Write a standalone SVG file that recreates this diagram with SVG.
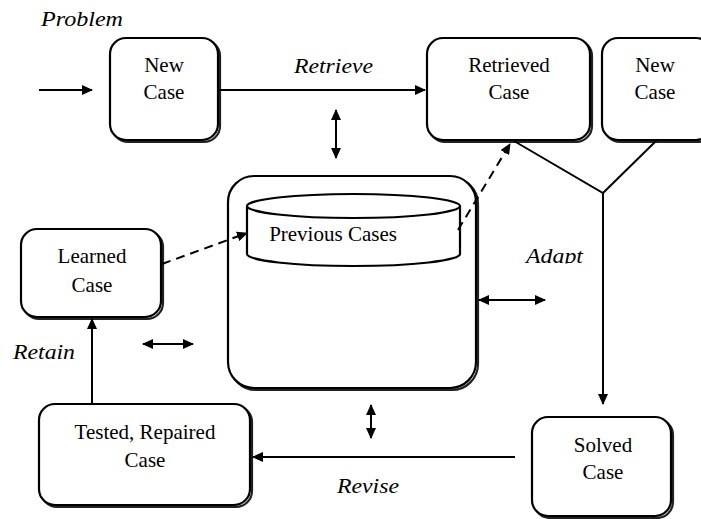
<svg xmlns="http://www.w3.org/2000/svg" width="701" height="519" viewBox="0 0 701 519">
<style>
.box{fill:#fff;stroke:#000;stroke-width:2.2}
.sh{fill:none;stroke:#222;stroke-width:2.2}
.t{font-family:'Liberation Serif','Times New Roman',serif;font-size:21px;fill:#000;text-anchor:middle}
.it{font-family:'Liberation Serif','Times New Roman',serif;font-size:21px;font-style:italic;fill:#000}
.ln{fill:none;stroke:#000;stroke-width:2}
.dash{fill:none;stroke:#000;stroke-width:2;stroke-dasharray:9,6}
</style>
<defs>
<marker id="arr" markerUnits="userSpaceOnUse" markerWidth="11" markerHeight="10" refX="10" refY="5" orient="auto-start-reverse" viewBox="0 0 11 10">
<path d="M0,0 L11,5 L0,10 z" fill="#000"/>
</marker>
<clipPath id="adclip"><rect x="500" y="230" width="120" height="33.5"/></clipPath>
</defs>
<rect width="701" height="519" fill="#fff"/>

<g id="new-case">
<rect class="sh" x="112" y="40" width="108" height="102" rx="16"/>
<rect class="box" x="110" y="38" width="108" height="102" rx="16"/>
<text class="t" x="164" y="72">New</text>
<text class="t" x="164" y="99">Case</text>
</g>

<g id="retrieved-case">
<rect class="sh" x="429" y="40" width="163" height="102" rx="16"/>
<rect class="box" x="427" y="38" width="163" height="102" rx="16"/>
<text class="t" x="509" y="72">Retrieved</text>
<text class="t" x="509" y="99">Case</text>
</g>

<g id="new-case-2">
<rect class="sh" x="604" y="40" width="110" height="102" rx="16"/>
<rect class="box" x="602" y="38" width="110" height="102" rx="16"/>
<text class="t" x="655" y="72">New</text>
<text class="t" x="655" y="99">Case</text>
</g>

<g id="case-base">
<rect class="sh" x="230" y="178" width="248" height="212" rx="26" stroke-width="3"/>
<rect class="box" x="228" y="176" width="248" height="212" rx="26" stroke-width="2.6"/>
</g>

<g id="previous-cases">
<path class="box" d="M247,206 L247,254 A106.5,12 0 0 0 460,254 L460,206"/>
<ellipse class="box" cx="353.5" cy="206" rx="106.5" ry="12"/>
<text class="t" x="333" y="241">Previous Cases</text>
</g>

<g id="learned-case">
<rect class="sh" x="23" y="231" width="140" height="88" rx="16"/>
<rect class="box" x="21" y="229" width="140" height="88" rx="16"/>
<text class="t" x="92" y="263">Learned</text>
<text class="t" x="92" y="292">Case</text>
</g>

<g id="tested-case">
<rect class="sh" x="41" y="406" width="211" height="101" rx="16"/>
<rect class="box" x="39" y="404" width="211" height="101" rx="16"/>
<text class="t" x="145" y="439">Tested, Repaired</text>
<text class="t" x="145" y="467">Case</text>
</g>

<g id="solved-case">
<rect class="sh" x="534" y="419" width="139" height="99" rx="16"/>
<rect class="box" x="532" y="417" width="139" height="99" rx="16"/>
<text class="t" x="603" y="452">Solved</text>
<text class="t" x="603" y="479">Case</text>
</g>

<g id="connectors">
<line class="ln" x1="39" y1="90" x2="92" y2="90" marker-end="url(#arr)"/>
<line class="ln" x1="219" y1="90" x2="425" y2="90" marker-end="url(#arr)"/>
<line class="ln" x1="336" y1="110" x2="336" y2="158" marker-start="url(#arr)" marker-end="url(#arr)"/>
<polyline class="ln" points="514,141 603,193 656,141"/>
<line class="ln" x1="603" y1="193" x2="603" y2="404" marker-end="url(#arr)"/>
<line class="dash" x1="458" y1="230" x2="510" y2="144" marker-end="url(#arr)"/>
<line class="dash" x1="162" y1="264" x2="247" y2="233" marker-end="url(#arr)"/>
<line class="ln" x1="479" y1="300" x2="545" y2="300" marker-start="url(#arr)" marker-end="url(#arr)"/>
<line class="ln" x1="143" y1="344" x2="193" y2="344" marker-start="url(#arr)" marker-end="url(#arr)"/>
<line class="ln" x1="92" y1="404" x2="92" y2="319" marker-end="url(#arr)"/>
<line class="ln" x1="371" y1="405" x2="371" y2="438" marker-start="url(#arr)" marker-end="url(#arr)"/>
<line class="ln" x1="515" y1="457" x2="253" y2="457" marker-end="url(#arr)"/>
</g>

<g id="labels">
<text class="it" x="41" y="26" textLength="82" lengthAdjust="spacingAndGlyphs">Problem</text>
<text class="it" x="294" y="73" textLength="79" lengthAdjust="spacingAndGlyphs">Retrieve</text>
<text class="it" x="526" y="263" textLength="57" lengthAdjust="spacingAndGlyphs" clip-path="url(#adclip)">Adapt</text>
<text class="it" x="13" y="359" textLength="62" lengthAdjust="spacingAndGlyphs">Retain</text>
<text class="it" x="337" y="493" textLength="62" lengthAdjust="spacingAndGlyphs">Revise</text>
</g>
</svg>
